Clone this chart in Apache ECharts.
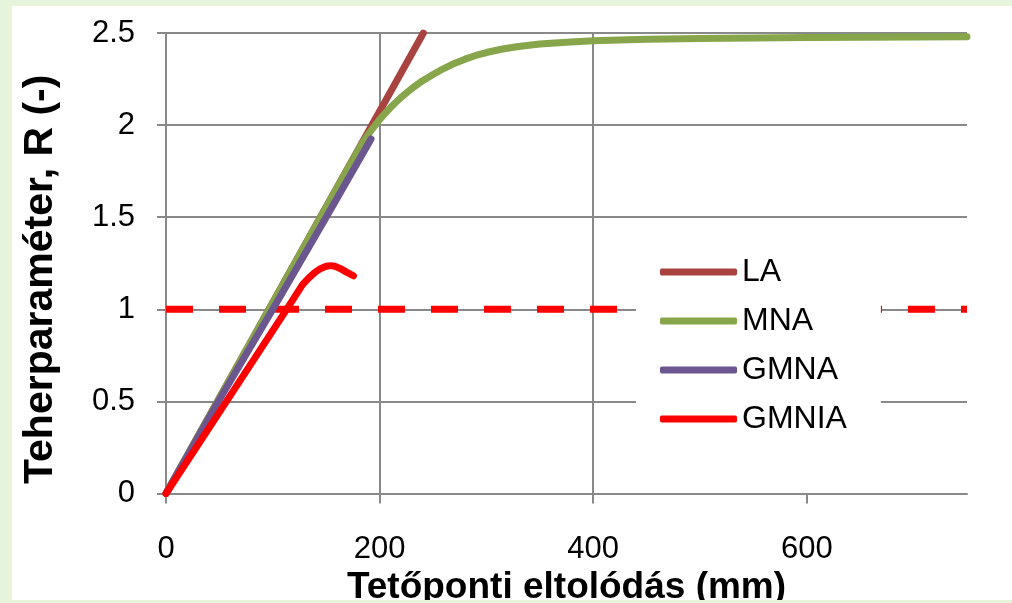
<!DOCTYPE html>
<html>
<head>
<meta charset="utf-8">
<script src="https://cdn.jsdelivr.net/npm/echarts@6/dist/echarts.min.js"></script>
<style>
  html, body { margin: 0; padding: 0; }
  #wrap { position: relative; width: 1012px; height: 603px; background: #e6f4dc; }
  #chart { position: absolute; left: 12px; top: 6px; width: 1000px; height: 594px; background: #ffffff; }
</style>
</head>
<body>
<div id="wrap"><div id="chart"></div></div>
<script>
// ---- data ----
const seriesNames = ['LA', 'MNA', 'GMNA', 'GMNIA'];
const xTickValues = [0, 200, 400, 600];

const laX = [0, 241];
const laR = [0, 2.5];

const mnaX = [0, 100, 150, 180, 185, 190, 195, 200, 205, 210, 215, 220, 230, 240, 250, 260, 270, 280, 290, 300, 315, 330, 350, 375, 400, 450, 500, 600, 750];
const mnaR = [0, 1.037, 1.555, 1.865, 1.912, 1.955, 1.993, 2.03, 2.063, 2.094, 2.123, 2.15, 2.198, 2.24, 2.275, 2.307, 2.335, 2.358, 2.378, 2.394, 2.413, 2.427, 2.44, 2.45, 2.458, 2.466, 2.47, 2.475, 2.48];

const gmnaX = [0, 50, 100, 150, 192];
const gmnaR = [0, 0.51, 1.0, 1.5, 1.925];

const gmniaX = [0, 60, 113, 128, 134, 140, 145, 150, 154, 158, 163, 169, 175.5];
const gmniaR = [0, 0.53, 1.0, 1.135, 1.172, 1.203, 1.222, 1.234, 1.237, 1.234, 1.222, 1.202, 1.182];

const refX = [0, 750];
const refR = [1, 1];

const zip = (xs, ys) => xs.map((x, i) => [x, ys[i]]);

const FONT = '"Liberation Sans", Arial, sans-serif';
const GRID = '#898989';

const chart = echarts.init(document.getElementById('chart'), null, { renderer: 'canvas' });

function lineSeries(name, data, color, extra) {
  return Object.assign({
    name: name,
    type: 'line',
    data: data,
    symbol: 'none',
    showSymbol: false,
    lineStyle: { color: color, width: 7, cap: 'round', join: 'round' },
    itemStyle: { color: color },
    emphasis: { disabled: true },
    animation: false
  }, extra || {});
}

chart.setOption({
  animation: false,
  textStyle: { fontFamily: FONT },
  grid: { left: 154, top: 27, right: 45, bottom: 106.5, containLabel: false, outerBoundsMode: 'none' },
  legend: {
    data: seriesNames,
    orient: 'vertical',
    left: 624,
    top: 243,
    padding: [5, 34, 8, 24],
    backgroundColor: '#ffffff',
    icon: 'roundRect',
    itemWidth: 77,
    itemHeight: 7,
    itemGap: 13,
    textStyle: { fontFamily: FONT, fontSize: 32, color: '#000', lineHeight: 36 }
  },
  xAxis: {
    type: 'value',
    min: 0,
    max: 750,
    interval: 200,
    name: 'Tetőponti eltolódás (mm)',
    nameLocation: 'middle',
    nameGap: 61,
    nameTextStyle: { fontFamily: FONT, fontSize: 37, fontWeight: 'bold', color: '#000' },
    axisLine: { show: true, lineStyle: { color: GRID, width: 2 } },
    axisTick: { show: true, inside: false, length: 10, lineStyle: { color: GRID, width: 2 }, customValues: xTickValues },
    axisLabel: { fontFamily: FONT, fontSize: 31, color: '#000', margin: 40, customValues: xTickValues },
    splitLine: { show: true, showMinLine: false, showMaxLine: false, lineStyle: { color: GRID, width: 2 } }
  },
  yAxis: {
    type: 'value',
    min: 0,
    max: 2.5,
    interval: 0.5,
    name: 'Teherparaméter, R (-)',
    nameLocation: 'middle',
    nameGap: 105,
    nameTextStyle: { fontFamily: FONT, fontSize: 41, fontWeight: 'bold', color: '#000', padding: [0, 32, 0, 0] },
    axisLine: { show: true, lineStyle: { color: GRID, width: 2 } },
    axisTick: { show: true, inside: false, length: 9, lineStyle: { color: GRID, width: 2 } },
    axisLabel: { fontFamily: FONT, fontSize: 31, color: '#000', margin: 31 },
    splitLine: { show: true, lineStyle: { color: GRID, width: 2 } }
  },
  series: [
    lineSeries('LA', zip(laX, laR), '#a9433f'),
    lineSeries('MNA', zip(mnaX, mnaR), '#87a54a'),
    lineSeries('GMNA', zip(gmnaX, gmnaR), '#6c5690'),
    lineSeries('GMNIA', zip(gmniaX, gmniaR), '#ff0000'),
    lineSeries('ref', zip(refX, refR), '#ff0000', {
      lineStyle: { color: '#ff0000', width: 7, type: [27, 26], cap: 'butt' },
      z: 1
    })
  ]
});
</script>
</body>
</html>
